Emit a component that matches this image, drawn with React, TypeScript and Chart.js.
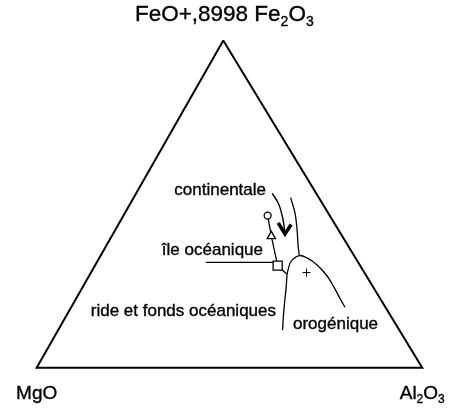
import React, { useEffect, useRef } from "react";
import { Chart, registerables } from "chart.js";

Chart.register(...registerables);

// Compositions as [FeO*, MgO, Al2O3] (wt %)
const CORNERS = [
  [100, 0, 0],
  [0, 100, 0],
  [0, 0, 100],
  [100, 0, 0],
];
const ISLAND_FLOOR_LINE = [
  [32.2, 39.5, 28.3],
  [32.2, 22.0, 45.8],
];
const TREND_LINE = [
  [46.5, 16.1, 37.4],
  [40.2, 18.4, 41.4],
  [31.2, 21.4, 47.4],
];
const TREND_TO_JUNCTION = [
  [31.2, 21.4, 47.4],
  [28.6, 20.2, 51.1],
];
const FLOOR_OROGENIC_LINE = [
  [28.6, 20.2, 51.1],
  [24.1, 22.9, 53.0],
  [19.8, 25.5, 54.7],
  [15.9, 27.8, 56.3],
  [11.5, 30.3, 58.2],
];
const OROGENIC_DOME = [
  [28.6, 20.2, 51.1],
  [31.6, 18.1, 50.3],
  [33.2, 16.5, 50.4],
  [34.3, 14.2, 51.5],
  [33.5, 12.5, 54.0],
  [31.5, 11.1, 57.4],
  [28.2, 10.2, 61.6],
  [24.4, 10.2, 65.4],
  [21.2, 10.4, 68.4],
  [18.5, 10.5, 71.0],
];
const CONTINENTAL_LINE = [
  [34.3, 14.2, 51.5],
  [37.4, 12.8, 49.7],
  [42.4, 10.7, 47.0],
  [47.3, 8.6, 44.1],
  [52.0, 7.3, 40.7],
];
const ARROW_SHAFT = [
  [53.3, 11.3, 35.3],
  [50.2, 11.4, 38.4],
  [47.3, 12.1, 40.6],
  [44.3, 13.0, 42.6],
  [40.9, 14.6, 44.6],
];
const ARROW_HEAD = [
  [44.3, 14.5, 41.2],
  [40.9, 14.6, 44.6],
  [43.8, 11.4, 44.8],
];
const CONTINENTAL_MEAN = [[46.5, 16.1, 37.4]];
const ISLAND_MEAN = [[40.2, 18.4, 41.4]];
const FLOOR_MEAN = [[31.2, 21.4, 47.4]];
const OROGENIC_MEAN = [[29.1, 15.0, 55.9]];

// Text
const TOP_LABEL: [string, boolean][] = [
  ["FeO+,8998 Fe", false],
  ["2", true],
  ["O", false],
  ["3", true],
];
const LEFT_LABEL: [string, boolean][] = [["MgO", false]];
const RIGHT_LABEL: [string, boolean][] = [
  ["Al", false],
  ["2", true],
  ["O", false],
  ["3", true],
];
const FIELD_LABELS = [
  "continentale",
  "île océanique",
  "ride et fonds océaniques",
  "orogénique",
];

// Horizontal offset of the FeO corner along the base (drawing units)
const APEX_X = 0.484;

const toXY = (c: number[]) => ({
  x: (c[2] + c[0] * APEX_X) / 100,
  y: c[0] / 100,
});

const FONT = '"Liberation Sans", Arial, Helvetica, sans-serif';

function runsWidth(ctx: CanvasRenderingContext2D, runs: [string, boolean][], size: number, subSize: number) {
  let w = 0;
  for (const [t, sub] of runs) {
    ctx.font = `${sub ? subSize : size}px ${FONT}`;
    w += ctx.measureText(t).width;
  }
  return w;
}

// Draws a label with subscripts, centred on cx
function drawRuns(
  ctx: CanvasRenderingContext2D,
  runs: [string, boolean][],
  cx: number,
  y: number,
  size: number,
  subSize: number
) {
  let x = cx - runsWidth(ctx, runs, size, subSize) / 2;
  ctx.textAlign = "left";
  for (const [t, sub] of runs) {
    ctx.font = `${sub ? subSize : size}px ${FONT}`;
    const yy = sub ? y + Math.round(size * 0.2) : y;
    ctx.fillText(t, x, yy);
    ctx.strokeText(t, x, yy);
    x += ctx.measureText(t).width;
  }
}

const textPlugin = {
  id: "ternaryText",
  afterDatasetsDraw(chart: Chart) {
    const ctx = chart.ctx;
    const xs = chart.scales.x;
    const ys = chart.scales.y;
    const apex = toXY(CORNERS[0]);
    const left = toXY(CORNERS[1]);
    const right = toXY(CORNERS[2]);
    ctx.save();
    ctx.fillStyle = "#000";
    ctx.strokeStyle = "#000";
    ctx.lineWidth = 0.35;
    ctx.textBaseline = "alphabetic";
    drawRuns(ctx, TOP_LABEL, xs.getPixelForValue(apex.x) + 1, 21, 22.5, 14);
    drawRuns(ctx, LEFT_LABEL, xs.getPixelForValue(left.x), ys.getPixelForValue(left.y) + 31, 19, 12);
    drawRuns(ctx, RIGHT_LABEL, xs.getPixelForValue(right.x), ys.getPixelForValue(right.y) + 31, 19, 12);

    ctx.font = `17px ${FONT}`;
    const put = (t: string, x: number, y: number, align: CanvasTextAlign) => {
      ctx.textAlign = align;
      ctx.fillText(t, x, y);
      ctx.strokeText(t, x, y);
    };
    put(FIELD_LABELS[0], 266, 195, "right");
    put(FIELD_LABELS[1], 263, 255, "right");
    put(FIELD_LABELS[2], 276, 316, "right");
    put(FIELD_LABELS[3], 293, 329, "left");
    ctx.restore();
  },
};

const line = (data: number[][], width: number, tension = 0) => ({
  data: data.map(toXY),
  showLine: true,
  borderColor: "#000",
  borderWidth: width,
  pointRadius: 0,
  tension,
  fill: false,
  order: 2,
});

const marker = (data: number[][], style: string, radius: number, width = 1.3, fill = "#fff") => ({
  data: data.map(toXY),
  showLine: false,
  pointStyle: style,
  pointRadius: radius,
  pointBackgroundColor: fill,
  pointBorderColor: "#000",
  pointBorderWidth: width,
  order: 0,
});

export default function App() {
  const ref = useRef<HTMLCanvasElement>(null);

  useEffect(() => {
    if (!ref.current) return;
    const chart = new Chart(ref.current, {
      type: "scatter",
      data: {
        datasets: [
          line(CORNERS, 2),
          line(ISLAND_FLOOR_LINE, 1.3),
          line(TREND_LINE, 1.3),
          line(TREND_TO_JUNCTION, 1.3),
          line(FLOOR_OROGENIC_LINE, 1.3, 0.3),
          line(OROGENIC_DOME, 1.3, 0.4),
          line(CONTINENTAL_LINE, 1.3, 0.4),
          line(ARROW_SHAFT, 1.4, 0.4),
          { ...line(ARROW_HEAD, 3.5), borderJoinStyle: "miter" },
          marker(CONTINENTAL_MEAN, "circle", 3.5),
          marker(ISLAND_MEAN, "triangle", 4.8),
          marker(FLOOR_MEAN, "rect", 6.4),
          marker(OROGENIC_MEAN, "cross", 4, 1),
        ] as any,
      },
      options: {
        animation: false,
        responsive: false,
        layout: { padding: 0 },
        scales: {
          x: { type: "linear", min: -0.07519, max: 1.0702, display: false },
          y: { type: "linear", min: -0.1206, max: 1.1, display: false },
        },
        plugins: {
          legend: { display: false },
          tooltip: { enabled: false },
        },
        events: [],
      },
      plugins: [textPlugin],
    });
    return () => chart.destroy();
  }, []);

  return (
    <div style={{ position: "fixed", left: 0, top: 0, width: 457, height: 415, background: "#fff" }}>
      <canvas ref={ref} width={457} height={415} style={{ display: "block" }} />
    </div>
  );
}
